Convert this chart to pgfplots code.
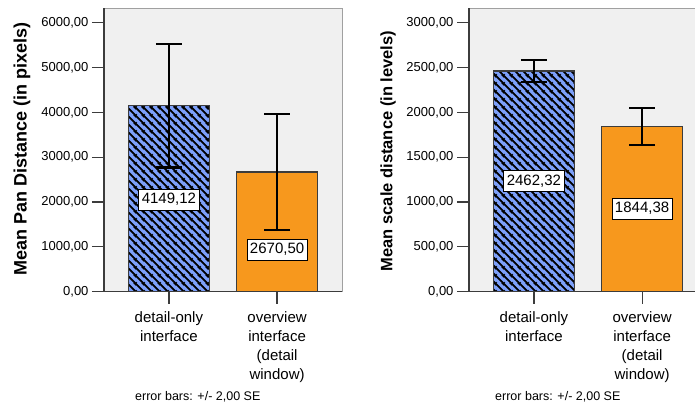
\documentclass[border=0pt]{standalone}
\usepackage{pgfplots}
\pgfplotsset{compat=1.18}
\usepackage{fontspec}
\setmainfont{Liberation Sans}
\usetikzlibrary{patterns}
\pgfdeclarepatternformonly{spsshatch}{\pgfpoint{0pt}{0pt}}{\pgfpoint{8pt}{8pt}}{\pgfpoint{8pt}{8pt}}{%
  \pgfsetlinewidth{2pt}%
  \pgfpathmoveto{\pgfpoint{-2pt}{2pt}}\pgfpathlineto{\pgfpoint{2pt}{-2pt}}%
  \pgfpathmoveto{\pgfpoint{-1pt}{9pt}}\pgfpathlineto{\pgfpoint{9pt}{-1pt}}%
  \pgfpathmoveto{\pgfpoint{6pt}{10pt}}\pgfpathlineto{\pgfpoint{10pt}{6pt}}%
  \pgfusepath{stroke}}
\definecolor{bggray}{RGB}{240,240,240}
\definecolor{barblue}{RGB}{125,160,250}
\definecolor{barorange}{RGB}{247,152,29}
\definecolor{framegray}{RGB}{160,160,160}
\definecolor{axdark}{RGB}{60,60,60}
\tikzset{vallabel/.style={draw=black, fill=white, line width=0.8pt, font=\fontsize{15}{17}\selectfont, inner xsep=3pt, inner ysep=0pt, minimum height=21pt}}
\pgfplotsset{
  spssaxis/.style={
    scale only axis, width=238pt, height=283.4pt,
    anchor=south west,
    xmin=-0.6, xmax=1.6, ymin=0,
    axis background/.style={fill=bggray},
    axis line style={draw=framegray, line width=1pt},
    xtick={0,1}, xtick pos=bottom, ytick pos=left,
    tick align=outside, major tick length=12pt,
    tick style={axdark, line width=1.2pt},
    /pgf/number format/assume math mode=true,
    yticklabel style={font=\fontsize{13}{15}\selectfont, /pgf/number format/.cd, fixed, fixed zerofill, precision=2, use comma, 1000 sep={}},
    scaled y ticks=false,
    xticklabel style={align=center, font=\fontsize{15}{19}\selectfont, anchor=north, yshift=-4pt},
    xticklabels={detail-only\\interface, overview\\interface\\(detail\\window)},
    clip=false,
    after end axis/.code={\draw[axdark, line width=1.4pt] (rel axis cs:0,1) -- (rel axis cs:0,0) -- (rel axis cs:1,0);},
  },
  errstyle/.style={error bars/.cd, y dir=both, y explicit, error mark=|, error bar style={black, line width=2.2pt}, error mark options={black, line width=2.2pt, mark size=13pt}},
  bluebar/.style={ybar, bar width=81pt, bar shift=0pt, draw=axdark, line width=1.2pt, fill=barblue,
    postaction={pattern=spsshatch, pattern color=black}, errstyle},
  orangebar/.style={ybar, bar width=81pt, bar shift=0pt, draw=axdark, line width=1.2pt, fill=barorange, errstyle},
}
\begin{document}
\begin{tikzpicture}[x=1pt,y=1pt]
\path[use as bounding box] (0,0) rectangle (695,410);
\begin{axis}[spssaxis, at={(104pt,118.3pt)}, ymax=6321, ytick={0,1000,...,6000}]
\addplot[bluebar] coordinates {(0,4149.12) +- (0,1380)};
\addplot[orangebar] coordinates {(1,2670.50) +- (0,1300)};
\node[vallabel] at (axis cs:0,2052) {4149,12};
\node[vallabel] at (axis cs:1,937) {2670,50};
\end{axis}
\begin{axis}[spssaxis, at={(469pt,118.3pt)}, ymax=3160.5, ytick={0,500,...,3000}]
\addplot[bluebar] coordinates {(0,2462.32) +- (0,125)};
\addplot[orangebar] coordinates {(1,1844.38) +- (0,207)};
\node[vallabel] at (axis cs:0,1234) {2462,32};
\node[vallabel] at (axis cs:1,926) {1844,38};
\end{axis}
\node[rotate=90, font=\bfseries\fontsize{18}{20}\selectfont] at (22,261) {Mean Pan Distance (in pixels)};
\node[rotate=90, font=\bfseries\fontsize{16.5}{18}\selectfont] at (388,259) {Mean scale distance (in levels)};
\node[anchor=west, inner sep=0pt, font=\fontsize{12.5}{14}\selectfont] at (135,13) {error bars: +/- 2,00 SE};
\node[anchor=west, inner sep=0pt, font=\fontsize{12.5}{14}\selectfont] at (495,13) {error bars: +/- 2,00 SE};
\end{tikzpicture}
\end{document}
